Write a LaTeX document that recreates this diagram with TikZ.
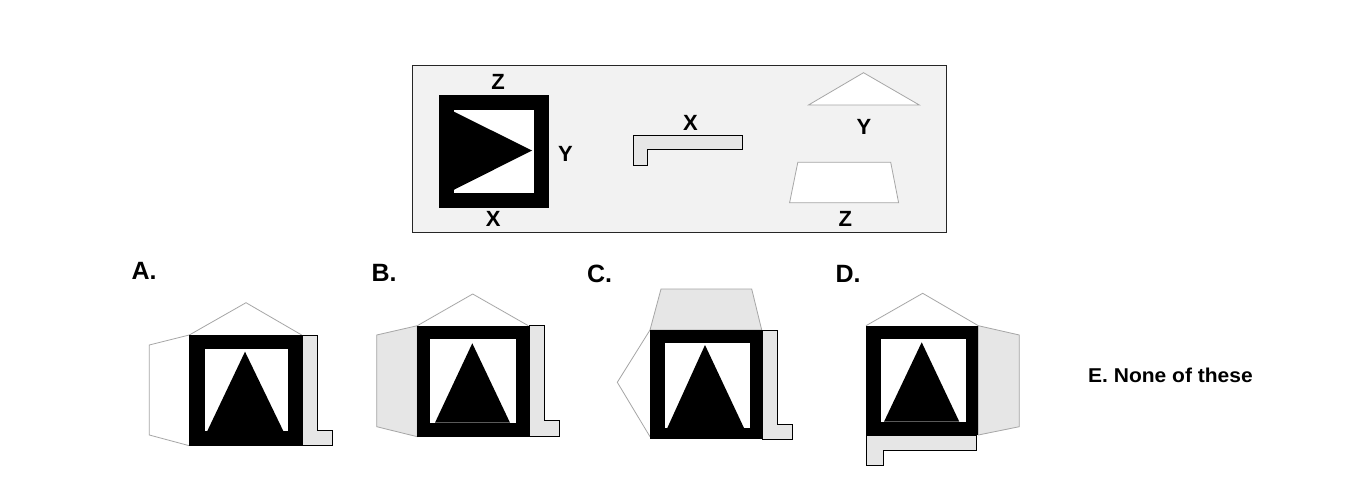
\documentclass[tikz,border=0pt]{standalone}
\usepackage{fontspec}
\newfontfamily\labfont{Liberation Sans}
\newfontfamily\efont[FakeStretch=1.05]{Liberation Sans}
\definecolor{panelbg}{HTML}{F2F2F2}
\definecolor{lightfill}{HTML}{E6E6E6}
\definecolor{outl}{HTML}{A6A6A6}
\tikzset{
  thinshape/.style={draw=outl, line width=0.8pt, line join=miter},
  whiteshape/.style={thinshape, fill=white},
  grayshape/.style={thinshape, fill=lightfill},
  lshape/.style={draw=black, line width=1pt, fill=lightfill, line join=miter},
  biglab/.style={font=\labfont\bfseries\fontsize{25}{27}\selectfont, inner sep=0pt},
  smalllab/.style={font=\labfont\bfseries\fontsize{22}{24}\selectfont, inner sep=0pt},
  elab/.style={font=\efont\bfseries\fontsize{20}{22}\selectfont, inner sep=0pt},
}
\begin{document}
\begin{tikzpicture}[x=1pt,y=-1pt]
\useasboundingbox (0,0) rectangle (1359,489);
\fill[white] (0,0) rectangle (1359,489);

% ---------- top panel ----------
\draw[fill=panelbg, draw=black!85, line width=0.8pt] (412,65) rectangle (946,232);

% black square (net)
\fill[black] (439,95) rectangle (549,208);
\fill[white] (453.5,110) rectangle (534,193.5);
\fill[black] (453.5,111.5) -- (532,150.5) -- (453.5,190) -- cycle;
\node[smalllab] (tz) at (498,81.5) {Z};
\node[smalllab] (ty) at (565.5,154) {Y};
\node[smalllab] (tx) at (493.3,219) {X};

% L shape X
\draw[lshape] (633,135.7) -- (742,135.7) -- (742,150) -- (647.4,150) -- (647.4,165.3) -- (633,165.3) -- cycle;
\node[smalllab] (lx) at (690.5,123.3) {X};

% triangle Y
\draw[whiteshape] (808.5,105) -- (863.5,72.7) -- (919.3,105) -- cycle;
\node[smalllab] (ly) at (864,126.7) {Y};

% trapezoid Z
\draw[whiteshape] (797.8,162.3) -- (890.7,162.3) -- (898.6,202.7) -- (789.6,202.7) -- cycle;
\node[smalllab] (lz) at (845.3,218.8) {Z};

% ---------- option A ----------
\node[biglab] (la) at (144,271) {A.};
\draw[whiteshape] (189.3,335) -- (246,302.7) -- (301.7,335);
\draw[whiteshape] (189.3,335) -- (149.3,345) -- (149.3,435) -- (189.3,445.7);
\draw[lshape] (302.7,335) -- (317.7,335) -- (317.7,430) -- (332.7,430) -- (332.7,445.7) -- (302.7,445.7) -- cycle;
\fill[black] (189.3,335) rectangle (302.7,445.7);
\fill[white] (205,349.3) rectangle (287.7,431);
\fill[black] (245,351.7) -- (283.3,431) -- (207.3,431) -- cycle;

% ---------- option B ----------
\node[biglab] (lb) at (384,273) {B.};
\draw[whiteshape] (417.3,325.7) -- (472.7,294) -- (528.3,325.7);
\draw[grayshape] (417.3,325.7) -- (376.7,335) -- (376.7,426.7) -- (417.3,436.7) -- cycle;
\draw[lshape] (529.3,325.7) -- (544.3,325.7) -- (544.3,420.7) -- (559.3,420.7) -- (559.3,436.7) -- (529.3,436.7) -- cycle;
\fill[black] (417.3,325.7) rectangle (529.3,436.7);
\fill[white] (430,339) rectangle (515.7,422.7);
\fill[black] (472.3,343.3) -- (510,422.7) -- (435,422.7) -- cycle;

% ---------- option C ----------
\node[biglab] (lc) at (599.5,273.5) {C.};
\draw[grayshape] (650,330) -- (661,289) -- (751.7,289) -- (761.7,330) -- cycle;
\draw[whiteshape] (650,330) -- (617.3,382.3) -- (650,436.7);
\draw[lshape] (762.7,330) -- (777.7,330) -- (777.7,424.3) -- (792.7,424.3) -- (792.7,439.3) -- (762.7,439.3) -- cycle;
\fill[black] (650,330) rectangle (762.7,439.3);
\fill[white] (665,343.3) rectangle (750,428);
\fill[black] (705,345) -- (744,428) -- (667.3,428) -- cycle;

% ---------- option D ----------
\node[biglab] (ld) at (848,273.5) {D.};
\draw[whiteshape] (866,325.7) -- (922.7,293.3) -- (978.3,325.7);
\draw[grayshape] (978.3,325.7) -- (1019.3,335) -- (1019.3,426.7) -- (978.3,435) -- cycle;
\draw[lshape] (866,435) -- (976.7,435) -- (976.7,450.7) -- (883.3,450.7) -- (883.3,465.7) -- (866,465.7) -- cycle;
\fill[black] (866,325.7) rectangle (978.3,435);
\fill[white] (880.7,339) rectangle (965.7,421.7);
\fill[black] (921.7,342.3) -- (959.3,421.7) -- (884,421.7) -- cycle;

% ---------- option E ----------
\node[elab, anchor=west] (le) at (1088,375.5) {E. None of these};
\end{tikzpicture}
\end{document}
